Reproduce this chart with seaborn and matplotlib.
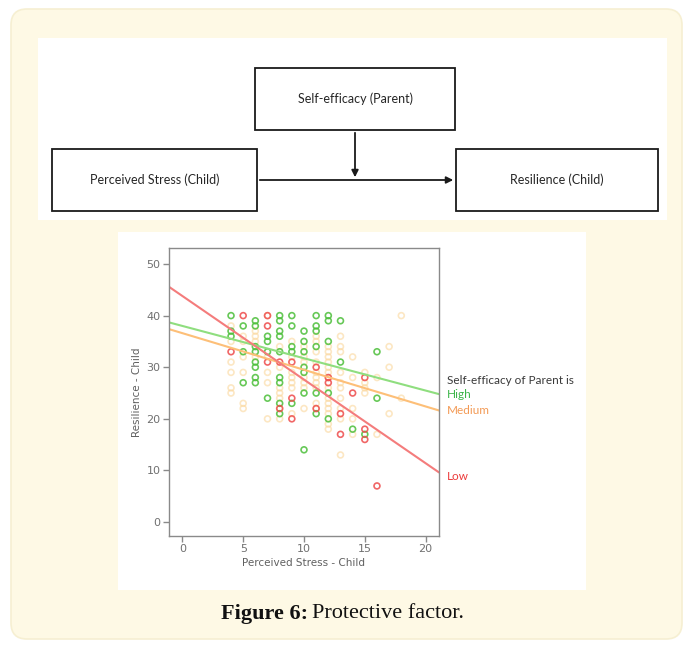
import seaborn as sns
import pandas as pd
import matplotlib.pyplot as plt
from matplotlib.patches import FancyBboxPatch, Rectangle

# Scatter data (Perceived Stress, Resilience) per parent self-efficacy group
high_x = [4, 4, 4, 5, 5, 5, 6, 6, 6, 6, 6, 6, 6, 6, 7, 7, 7, 7,
          8, 8, 8, 8, 8, 8, 8, 8, 8, 9, 9, 9, 9, 9,
          10, 10, 10, 10, 10, 10, 10, 11, 11, 11, 11, 11, 11,
          12, 12, 12, 12, 12, 13, 13, 14, 15, 16, 16]
high_y = [40, 37, 36, 38, 33, 27, 39, 38, 34, 33, 31, 30, 28, 27, 36, 35, 33, 24,
          40, 39, 37, 36, 33, 28, 27, 23, 21, 40, 38, 34, 33, 23,
          37, 35, 33, 30, 29, 25, 14, 40, 38, 37, 34, 25, 21,
          40, 39, 35, 25, 20, 39, 31, 18, 17, 33, 24]

low_x = [4, 5, 7, 7, 7, 8, 8, 9, 9, 9, 11, 11, 12, 12, 13, 13, 14, 15, 15, 15, 16]
low_y = [33, 40, 40, 38, 31, 31, 22, 31, 24, 20, 30, 22, 28, 27, 21, 17, 25, 28, 18, 16, 7]

med_x = [4] * 6 + [5] * 6 + [6] * 4 + [7] * 5 + [8] * 7 + [9] * 7 + [10] * 7 + \
        [11] * 10 + [12] * 14 + [13] * 10 + [14] * 5 + [15] * 4 + [16] * 2 + [17] * 3 + [18] * 2
med_y = [38, 35, 31, 29, 26, 25,
         36, 35, 32, 29, 23, 22,
         37, 36, 35, 32,
         40, 32, 29, 27, 20,
         34, 30, 26, 25, 24, 22, 20,
         35, 32, 29, 28, 27, 26, 21,
         34, 32, 31, 28, 27, 26, 22,
         36, 35, 33, 31, 29, 28, 27, 26, 23, 22,
         34, 33, 32, 31, 30, 29, 28, 26, 24, 23, 22, 21, 19, 18,
         36, 34, 33, 29, 27, 26, 24, 22, 20, 13,
         32, 28, 22, 20, 17,
         29, 27, 26, 25,
         28, 17,
         34, 30, 21,
         40, 24]

# Fit lines (intercept, slope)
groups = ['High', 'Medium', 'Low']
intercepts = [38.0, 36.6, 43.8]
slopes = [-0.626, -0.71, -1.62]

point_colors = {'High': '#4CBF3A', 'Medium': '#FBD79C', 'Low': '#EE4B4B'}
line_colors = {'High': '#8FDE7F', 'Medium': '#FDBF78', 'Low': '#F47C7C'}
label_colors = {'High': '#3DB54A', 'Medium': '#F39A55', 'Low': '#EC3B3B'}

W, H = 693, 649
fig = plt.figure(figsize=(W / 100, H / 100), dpi=100)
sns.set_style("white")

# background axes in pixel coordinates
bg = fig.add_axes([0, 0, 1, 1])
bg.set_xlim(0, W)
bg.set_ylim(H, 0)
bg.axis('off')
bg.add_patch(FancyBboxPatch((11, 9), W - 22, H - 19, boxstyle="round,pad=0,rounding_size=16",
                            fc='#FEF9E5', ec='#F6EFD2', lw=1.2))
bg.add_patch(Rectangle((38, 38), 629, 182, fc='white', ec='none'))
bg.add_patch(Rectangle((118, 232), 468, 358, fc='white', ec='none'))

# path diagram
dfont = dict(family='Lato', fontsize=9, color='#262626', ha='center', va='center')
boxes = [((255, 68), 200, 62, 'Self-efficacy (Parent)'),
         ((52, 149), 205, 62, 'Perceived Stress (Child)'),
         ((456, 149), 202, 62, 'Resilience (Child)')]
for (bx, by), bw, bh, label in boxes:
    bg.add_patch(Rectangle((bx, by), bw, bh, fc='white', ec='#1a1a1a', lw=1.3))
    bg.text(bx + bw / 2, by + bh / 2, label, **dfont)
bg.annotate('', xy=(456, 180), xytext=(257, 180),
            arrowprops=dict(arrowstyle='-|>', color='#1a1a1a', lw=1.3, mutation_scale=10))
bg.annotate('', xy=(355, 180), xytext=(355, 130),
            arrowprops=dict(arrowstyle='-|>', color='#1a1a1a', lw=1.3, mutation_scale=10))

# caption
bg.text(308, 614, 'Figure 6:', family='Liberation Serif', fontsize=16, fontweight='bold',
        ha='right', va='center', color='#111111')
bg.text(312, 614, 'Protective factor.', family='Liberation Serif', fontsize=16,
        ha='left', va='center', color='#111111')

# scatter plot
ax = fig.add_axes([169 / W, 1 - 536 / H, 270 / W, 288 / H])
df = pd.concat([
    pd.DataFrame({'stress': med_x, 'resil': med_y, 'grp': 'Medium'}),
    pd.DataFrame({'stress': high_x, 'resil': high_y, 'grp': 'High'}),
    pd.DataFrame({'stress': low_x, 'resil': low_y, 'grp': 'Low'}),
])
alphas = {'Medium': 0.6, 'High': 0.85, 'Low': 0.85}
for g in ['Medium', 'High', 'Low']:
    sub = df[df['grp'] == g]
    sns.scatterplot(data=sub, x='stress', y='resil', ax=ax, marker='o', s=18,
                    facecolor='none', edgecolor=point_colors[g], linewidth=1.2,
                    alpha=alphas[g], legend=False)

xlim = (-1.1, 21.1)
for g, b0, b1 in zip(groups, intercepts, slopes):
    line = pd.DataFrame({'x': list(xlim), 'y': [b0 + b1 * xlim[0], b0 + b1 * xlim[1]]})
    sns.lineplot(data=line, x='x', y='y', ax=ax, color=line_colors[g], lw=1.5)

ax.set_xlim(*xlim)
ax.set_ylim(-2.7, 53.1)
ax.set_xticks([0, 5, 10, 15, 20])
ax.set_yticks([0, 10, 20, 30, 40, 50])
ax.set_facecolor('white')
for sp in ax.spines.values():
    sp.set_color('#8a8a8a')
    sp.set_linewidth(1.0)
ax.tick_params(bottom=True, left=True, direction='out', length=4, width=1, color='#8a8a8a',
               labelcolor='#707070', labelsize=8, pad=2)
ax.set_xlabel('Perceived Stress - Child', color='#606060', fontsize=7.5, labelpad=3)
ax.set_ylabel('Resilience - Child', color='#606060', fontsize=7.5, labelpad=3)

# group labels on the right
lfont = dict(family='Lato', fontsize=8.5, ha='left', va='center')
bg.text(447, 380, 'Self-efficacy of Parent is', color='#3a3a3a', **lfont)
bg.text(447, 395, 'High', color=label_colors['High'], **lfont)
bg.text(447, 411, 'Medium', color=label_colors['Medium'], **lfont)
bg.text(447, 477, 'Low', color=label_colors['Low'], **lfont)

fig.savefig('out.png', dpi=100)
